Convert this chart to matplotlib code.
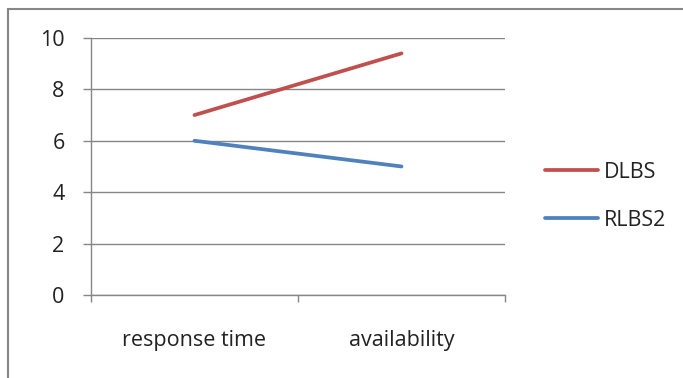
import matplotlib.pyplot as plt
from matplotlib.patches import Rectangle

categories = ["response time", "availability"]
dlbs = [7.0, 9.4]
rlbs2 = [6.0, 5.0]
series_names = ["DLBS", "RLBS2"]
y_ticks = [0, 2, 4, 6, 8, 10]

plt.rcParams['font.family'] = ['Open Sans', 'DejaVu Sans']
FS = 15.5
TXT = "#222222"
GRID = "#868686"

fig = plt.figure(figsize=(6.83, 3.78), dpi=100)
ax = fig.add_axes([0.1332, 0.2196, 0.6062, 0.68])

x = [0.5, 1.5]
ax.plot(x, dlbs, color="#C0504D", linewidth=2.7, solid_capstyle="round", label=series_names[0])
ax.plot(x, rlbs2, color="#4F81BD", linewidth=2.7, solid_capstyle="round", label=series_names[1])

ax.set_xlim(0, 2)
ax.set_ylim(0, 10)
ax.set_yticks(y_ticks)
ax.set_yticklabels([str(v) for v in y_ticks], fontsize=FS, color=TXT)
ax.set_xticks([0, 1, 2])
ax.set_xticklabels([])
ax.set_xticks(x, minor=True)
ax.set_xticklabels(categories, minor=True, fontsize=FS, color=TXT)
ax.tick_params(axis="x", which="minor", length=0, pad=25)
ax.tick_params(axis="x", which="major", length=5, width=1, color=GRID, direction="out")
ax.tick_params(axis="y", length=6, width=1, color=GRID, direction="out", pad=13)

ax.grid(axis="y", color=GRID, linewidth=1)
ax.set_axisbelow(True)
for side in ["top", "right"]:
    ax.spines[side].set_visible(False)
for side in ["left", "bottom"]:
    ax.spines[side].set_color(GRID)
    ax.spines[side].set_linewidth(1)

leg = fig.legend(loc="center left", bbox_to_anchor=(0.769, 0.481), frameon=False,
                 fontsize=FS, handlelength=2.47, handletextpad=0.3, labelspacing=1.25)
for t in leg.get_texts():
    t.set_color(TXT)

# outer chart frame
fig.patches.append(Rectangle((8 / 683, -0.1), 1.2, (378 - 9) / 378 + 0.1,
                             transform=fig.transFigure, fill=False,
                             edgecolor=GRID, linewidth=1.5))

fig.savefig("out.png", dpi=100)
